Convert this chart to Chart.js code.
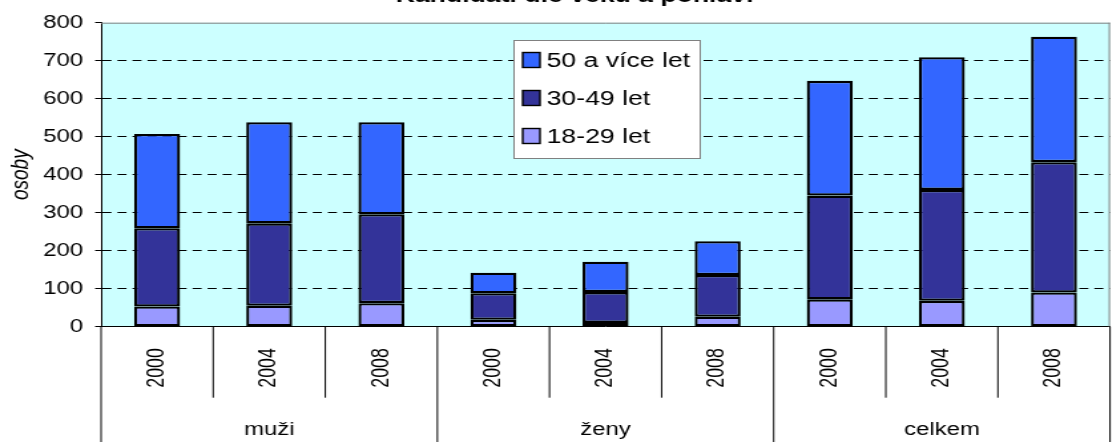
<!DOCTYPE html>
<html>
<head>
<meta charset="utf-8">
<script src="https://cdn.jsdelivr.net/npm/chart.js@4/dist/chart.umd.min.js"></script>
<style>
html,body{margin:0;padding:0;background:#fff;overflow:hidden}
/* the reference picture is stretched sideways, so the canvas is too */
#wrap{width:836px;height:442px;transform:scaleX(1.33);transform-origin:0 0}
</style>
</head>
<body>
<div id="wrap"><canvas id="myChart" width="836" height="442"></canvas></div>
<script>
var chartTitle = 'Kandidáti dle věku a pohlaví';
var years = ['2000','2004','2008','2000','2004','2008','2000','2004','2008'];
var groups = ['muži','ženy','celkem'];
var seriesNames = ['18-29 let','30-49 let','50 a více let'];
var age18_29 = [53, 55, 62, 18, 10, 26, 72, 68, 90];
var age30_49 = [206, 217, 234, 70, 81, 110, 273, 292, 343];
var age50plus = [248, 266, 242, 54, 80, 89, 302, 349, 330];
var yTicks = [0,100,200,300,400,500,600,700,800];

Chart.defaults.font.family = '"Liberation Sans", Arial, sans-serif';
Chart.defaults.color = '#000';

// background, plot frame, category dividers, title and legend box
var decor = {
  id: 'decor',
  beforeDraw: function(chart) {
    var a = chart.chartArea, c = chart.ctx;
    c.save();
    c.fillStyle = '#CCFFFF';
    c.fillRect(a.left, a.top, a.right - a.left, a.bottom - a.top);
    c.restore();
  },
  afterDraw: function(chart) {
    var a = chart.chartArea, c = chart.ctx;
    var xs = chart.scales.x;
    c.save();
    // plot frame top / right
    c.strokeStyle = '#808080';
    c.lineWidth = 1;
    c.beginPath();
    c.moveTo(a.left, a.top + 0.5); c.lineTo(a.right, a.top + 0.5);
    c.moveTo(a.right - 0.5, a.top); c.lineTo(a.right - 0.5, a.bottom);
    c.stroke();
    // dividers under the axis
    c.strokeStyle = '#000';
    for (var i = 0; i <= years.length; i++) {
      var px = xs.getPixelForValue(i - 0.5);
      var bottom = (i % 3 == 0) ? chart.height : xs.bottom;
      c.beginPath();
      c.moveTo(px, a.bottom);
      c.lineTo(px, bottom);
      c.stroke();
    }
    // title (cut off at the top like the reference)
    c.font = 'bold 20px "Liberation Sans", Arial, sans-serif';
    c.fillStyle = '#000';
    c.textAlign = 'center';
    c.textBaseline = 'alphabetic';
    c.fillText(chartTitle, 432, 2);
    // legend
    var lx = 386.5, ly = 40.5, lw = 140, lh = 118;
    c.fillStyle = '#fff';
    c.fillRect(lx, ly, lw, lh);
    c.strokeStyle = '#808080';
    c.strokeRect(lx, ly, lw, lh);
    var ds = chart.data.datasets;
    c.font = '20px "Liberation Sans", Arial, sans-serif';
    c.textAlign = 'left';
    c.textBaseline = 'middle';
    for (var k = 0; k < ds.length; k++) {
      var d = ds[ds.length - 1 - k];
      var cy = 60 + k * 38;
      c.fillStyle = d.backgroundColor;
      c.fillRect(393, cy - 7.5, 13, 15);
      c.strokeStyle = '#000';
      c.lineWidth = 1.4;
      c.strokeRect(393, cy - 7.5, 13, 15);
      c.fillStyle = '#000';
      c.fillText(d.label, 411, cy + 1);
    }
    c.restore();
  }
};

const config = {
  type: 'bar',
  data: {
    labels: years,
    datasets: [
      { label: seriesNames[0], data: age18_29, backgroundColor: '#9999FF' },
      { label: seriesNames[1], data: age30_49, backgroundColor: '#333399' },
      { label: seriesNames[2], data: age50plus, backgroundColor: '#3366FF' }
    ]
  },
  options: {
    responsive: false,
    animation: false,
    layout: { padding: { top: 22.7, right: 1.4, bottom: 0, left: 0 } },
    datasets: {
      bar: {
        borderColor: '#000',
        borderWidth: 2.3,
        borderSkipped: false,
        barPercentage: 0.41,
        categoryPercentage: 1
      }
    },
    plugins: {
      legend: { display: false },
      tooltip: { enabled: false },
      title: { display: false }
    },
    scales: {
      x: {
        stacked: true,
        weight: 0,
        grid: { display: false },
        border: { display: true, color: '#000', width: 1 },
        ticks: { autoSkip: false, minRotation: 90, maxRotation: 90, padding: 13.5, font: { size: 17.8 } },
        afterFit: function(s) { s.height = 71; }
      },
      x2: {
        type: 'category',
        labels: groups,
        position: 'bottom',
        offset: true,
        weight: 1,
        grid: { display: false },
        border: { display: false },
        ticks: { padding: 14, font: { size: 18 } },
        afterFit: function(s) { s.height = 44.3; }
      },
      y: {
        stacked: true,
        min: 0,
        max: 800,
        afterBuildTicks: function(s) { s.ticks = yTicks.map(function(v) { return { value: v }; }); },
        ticks: { padding: 9, font: { size: 18 } },
        grid: {
          color: function(ctx) { return (ctx.tick && (ctx.tick.value == 0 || ctx.tick.value == 800)) ? 'rgba(0,0,0,0)' : '#000'; },
          tickColor: '#000',
          tickLength: 4.5,
          lineWidth: 1
        },
        border: { display: true, color: '#000', width: 1, dash: [6.8, 4.5] },
        title: { display: true, text: 'osoby', font: { size: 19, style: 'italic' }, padding: { top: 4, bottom: 0 } },
        afterFit: function(s) { s.width = 76; }
      }
    }
  },
  plugins: [decor]
};

var chartInstance = new Chart(document.getElementById('myChart'), config);
</script>
</body>
</html>
